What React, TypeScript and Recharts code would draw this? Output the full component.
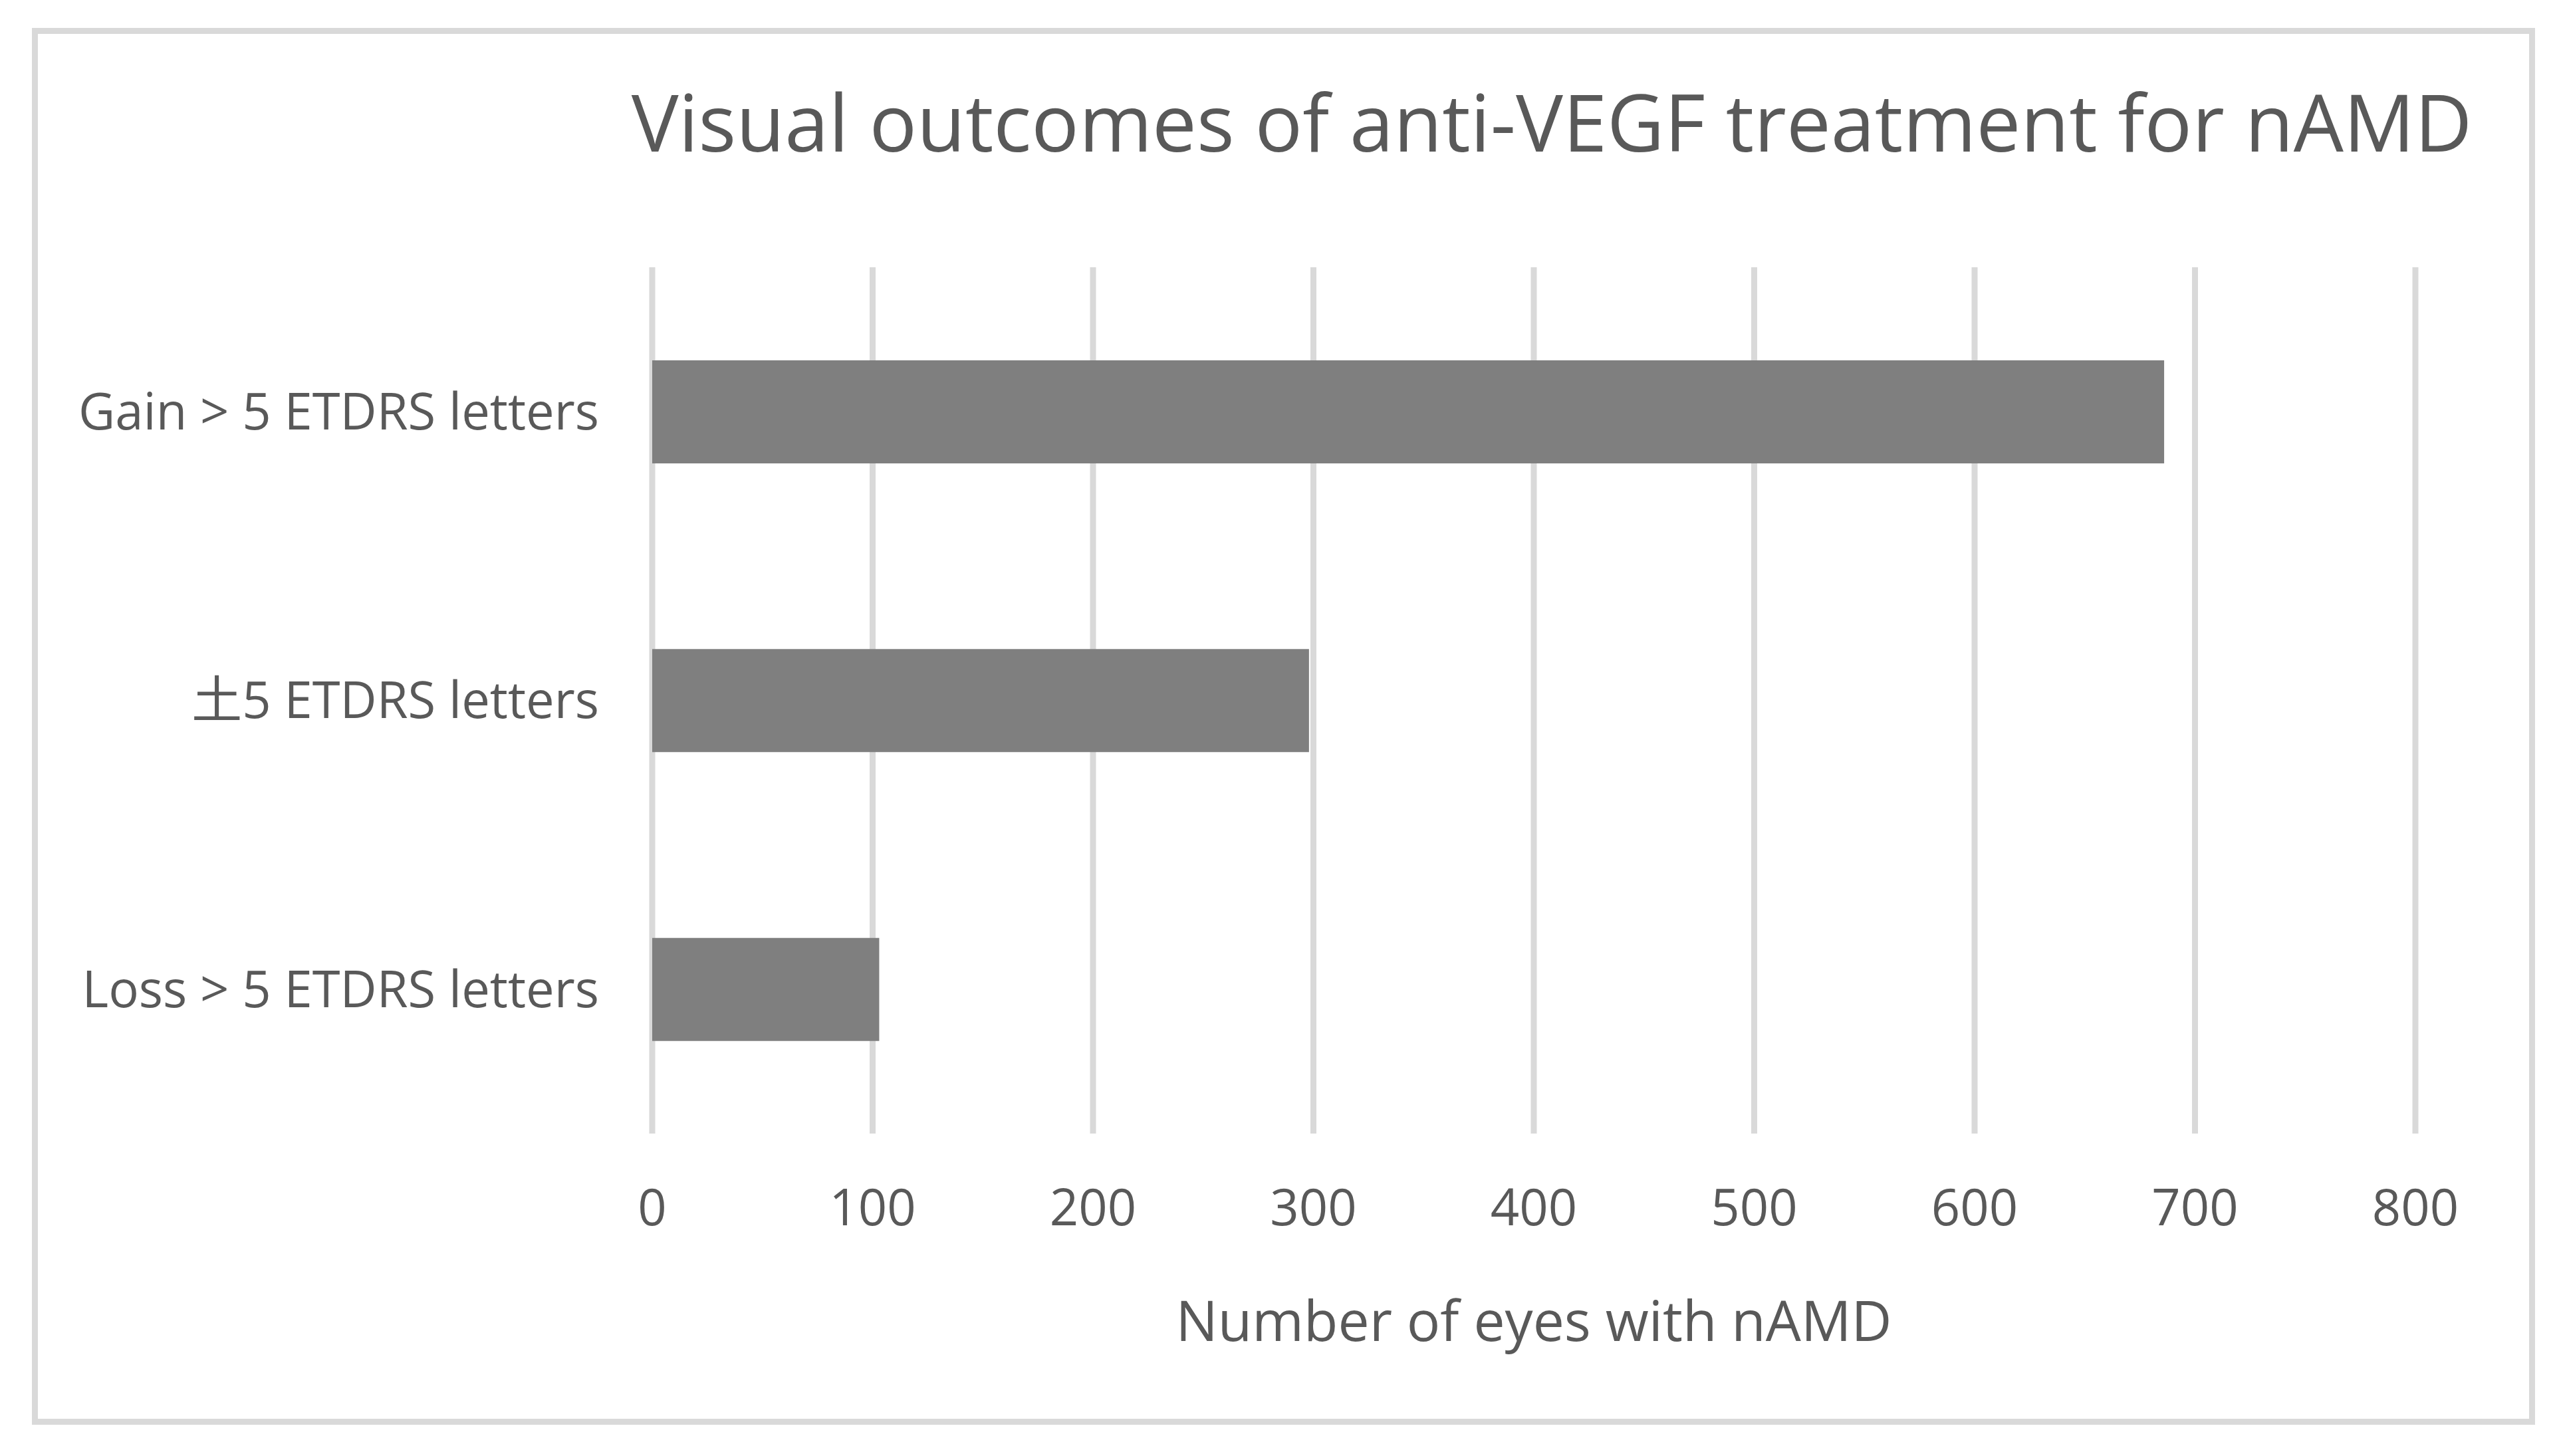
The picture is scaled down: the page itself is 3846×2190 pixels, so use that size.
import React from 'react';
import { BarChart, Bar, XAxis, YAxis, CartesianGrid, Label } from 'recharts';

const categories = ['Gain > 5 ETDRS letters', '土5 ETDRS letters', 'Loss > 5 ETDRS letters'];
const eyes = [686, 298, 103];
const xTicks = [0, 100, 200, 300, 400, 500, 600, 700, 800];

const chartData = categories.map((name, i) => ({ name, eyes: eyes[i] }));

const W = 3846;
const H = 2190;
const FONT = '"Open Sans", "Noto Sans CJK SC", sans-serif';
const TEXT = '#595959';

export default function App() {
  return (
    <div style={{ position: 'absolute', left: 0, top: 0, width: W, height: H, background: '#fff' }}>
      <div
        style={{
          position: 'absolute',
          left: 48,
          top: 42,
          width: 3765,
          height: 2101,
          boxSizing: 'border-box',
          border: '9px solid #d9d9d9'
        }}
      />
      <BarChart
        width={W}
        height={H}
        data={chartData}
        layout="vertical"
        margin={{ top: 402, right: 213, bottom: 165, left: 181 }}
        style={{ position: 'absolute', left: 0, top: 0, fontFamily: FONT }}
      >
        <CartesianGrid horizontal={false} stroke="#d9d9d9" strokeWidth={9} />
        <XAxis
          type="number"
          domain={[0, 800]}
          ticks={xTicks}
          axisLine={false}
          tickLine={false}
          tickSize={0}
          tickMargin={84}
          height={320}
          tick={{ fontSize: 76, fill: TEXT, fontFamily: FONT }}
        >
          <Label
            value="Number of eyes with nAMD"
            position="insideBottom"
            offset={8}
            style={{ fontSize: 84, fill: TEXT, fontFamily: FONT }}
          />
        </XAxis>
        <YAxis
          type="category"
          dataKey="name"
          width={800}
          axisLine={false}
          tickLine={false}
          tickSize={0}
          tickMargin={80}
          tick={{ fontSize: 76, fill: TEXT, fontFamily: FONT }}
        />
        <Bar dataKey="eyes" fill="#7f7f7f" barSize={155} isAnimationActive={false} />
      </BarChart>
      <svg
        width={W}
        height={H}
        style={{ position: 'absolute', left: 0, top: 0, pointerEvents: 'none' }}
      >
        <text x={2334} y={228} textAnchor="middle" fontSize={119} fill={TEXT} fontFamily={FONT}>
          Visual outcomes of anti-VEGF treatment for nAMD
        </text>
      </svg>
    </div>
  );
}
